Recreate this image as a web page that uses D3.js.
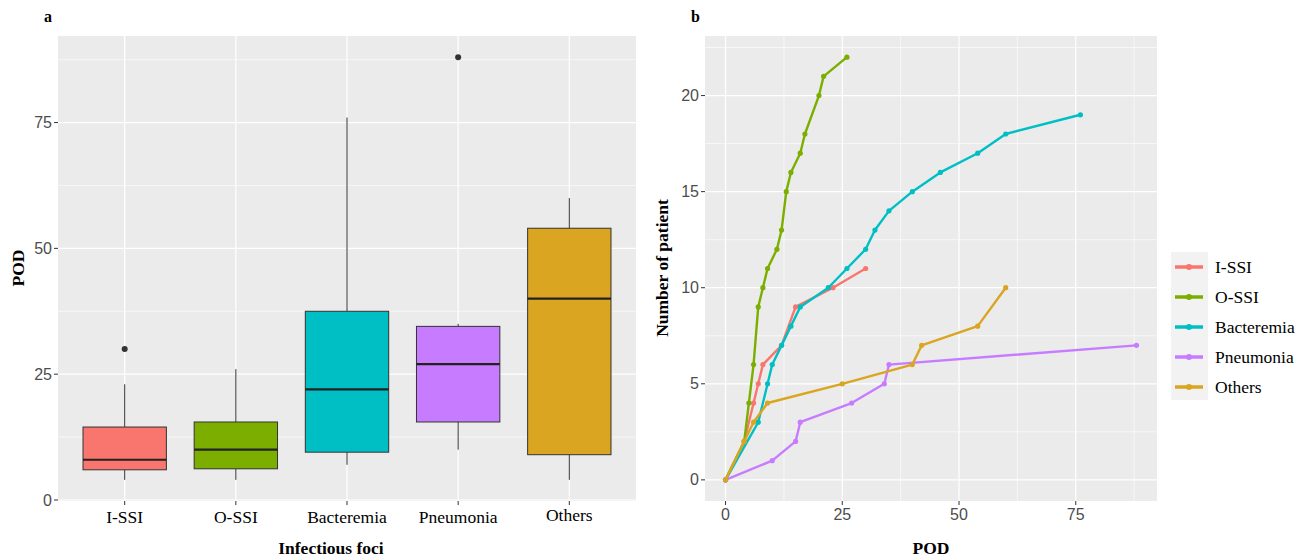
<!DOCTYPE html>
<html>
<head>
<meta charset="utf-8">
<script src="https://cdn.jsdelivr.net/npm/d3@7"></script>
<style>
  body { margin: 0; background: #fff; }
  svg { display: block; }
  .tick-sans { font-family: "Liberation Sans", Arial, sans-serif; font-size: 16px; fill: #4d4d4d; }
  .serif { font-family: "Liberation Serif", "Times New Roman", serif; fill: #000; }
</style>
</head>
<body>
<div id="chart"></div>
<script>
// panel a: box plot of POD per infectious focus
const categories = ["I-SSI", "O-SSI", "Bacteremia", "Pneumonia", "Others"];
const whiskerLow = [4, 4, 7, 10, 4];
const q1 = [6, 6.2, 9.5, 15.5, 9];
const medians = [8, 10, 22, 27, 40];
const q3 = [14.5, 15.5, 37.5, 34.5, 54];
const whiskerHigh = [23, 26, 76, 35, 60];
const outliers = [[30], [], [], [88], []];
const podTicks = [0, 25, 50, 75];

// panel b: cumulative number of patients by POD
const podISSI = [0, 4, 6, 7, 8, 12, 15, 23, 30];
const nISSI = [0, 2, 4, 5, 6, 7, 9, 10, 11];
const podOSSI = [0, 4, 5, 6, 7, 8, 9, 11, 12, 13, 14, 16, 17, 20, 21, 26];
const nOSSI = [0, 2, 4, 6, 9, 10, 11, 12, 13, 15, 16, 17, 18, 20, 21, 22];
const podBact = [0, 7, 9, 10, 12, 14, 16, 22, 26, 30, 32, 35, 40, 46, 54, 60, 76];
const nBact = [0, 3, 5, 6, 7, 8, 9, 10, 11, 12, 13, 14, 15, 16, 17, 18, 19];
const podPneu = [0, 10, 15, 16, 27, 34, 35, 88];
const nPneu = [0, 1, 2, 3, 4, 5, 6, 7];
const podOther = [0, 4, 6, 9, 25, 40, 42, 54, 60];
const nOther = [0, 2, 3, 4, 5, 6, 7, 8, 10];
const countTicks = [0, 5, 10, 15, 20];
const podTicksB = [0, 25, 50, 75];

const colors = ["#F8766D", "#7CAE00", "#00BFC4", "#C77CFF", "#DAA520"];

const series = [
  { name: categories[0], x: podISSI, y: nISSI },
  { name: categories[1], x: podOSSI, y: nOSSI },
  { name: categories[2], x: podBact, y: nBact },
  { name: categories[3], x: podPneu, y: nPneu },
  { name: categories[4], x: podOther, y: nOther }
];

const width = 1305, height = 558;
const svg = d3.select("#chart").append("svg")
  .attr("width", width)
  .attr("height", height);

const panelBg = "#EBEBEB";

// ---------- panel a ----------
const ax = d3.scalePoint().domain(categories).range([58, 636]).padding(0.6);
const ay = d3.scaleLinear().domain([-0.2, 92.2]).range([501, 36]);

const ga = svg.append("g");
ga.append("rect")
  .attr("x", 58).attr("y", 36)
  .attr("width", 636 - 58).attr("height", 501 - 36)
  .attr("fill", panelBg);

const minorA = d3.range(12.5, 92.2, 25);
ga.selectAll("line.minor").data(minorA).join("line")
  .attr("x1", 58).attr("x2", 636)
  .attr("y1", d => ay(d)).attr("y2", d => ay(d))
  .attr("stroke", "#fff").attr("stroke-width", 0.6);
ga.selectAll("line.major").data(podTicks).join("line")
  .attr("x1", 58).attr("x2", 636)
  .attr("y1", d => ay(d)).attr("y2", d => ay(d))
  .attr("stroke", "#fff").attr("stroke-width", 1.2);
ga.selectAll("line.vmajor").data(categories).join("line")
  .attr("x1", d => ax(d)).attr("x2", d => ax(d))
  .attr("y1", 36).attr("y2", 501)
  .attr("stroke", "#fff").attr("stroke-width", 1.2);

const boxW = ax.step() * 0.75;
const boxes = ga.selectAll("g.box").data(categories).join("g").attr("class", "box");

boxes.append("line")
  .attr("x1", d => ax(d)).attr("x2", d => ax(d))
  .attr("y1", (d, i) => ay(whiskerHigh[i])).attr("y2", (d, i) => ay(q3[i]))
  .attr("stroke", "#333").attr("stroke-width", 1);
boxes.append("line")
  .attr("x1", d => ax(d)).attr("x2", d => ax(d))
  .attr("y1", (d, i) => ay(q1[i])).attr("y2", (d, i) => ay(whiskerLow[i]))
  .attr("stroke", "#333").attr("stroke-width", 1);
boxes.append("rect")
  .attr("x", d => ax(d) - boxW / 2)
  .attr("width", boxW)
  .attr("y", (d, i) => ay(q3[i]))
  .attr("height", (d, i) => ay(q1[i]) - ay(q3[i]))
  .attr("fill", (d, i) => colors[i])
  .attr("stroke", "#333").attr("stroke-width", 1);
boxes.append("line")
  .attr("x1", d => ax(d) - boxW / 2).attr("x2", d => ax(d) + boxW / 2)
  .attr("y1", (d, i) => ay(medians[i])).attr("y2", (d, i) => ay(medians[i]))
  .attr("stroke", "#222").attr("stroke-width", 2.2);
boxes.each(function(d, i) {
  d3.select(this).selectAll("circle").data(outliers[i]).join("circle")
    .attr("cx", ax(d)).attr("cy", v => ay(v))
    .attr("r", 3).attr("fill", "#333");
});

// axes a
const aYAxis = ga.append("g");
aYAxis.selectAll("line").data(podTicks).join("line")
  .attr("x1", 54).attr("x2", 58)
  .attr("y1", d => ay(d)).attr("y2", d => ay(d))
  .attr("stroke", "#333");
aYAxis.selectAll("text").data(podTicks).join("text")
  .attr("class", "tick-sans")
  .attr("x", 52).attr("y", d => ay(d))
  .attr("dy", "0.35em")
  .attr("text-anchor", "end")
  .text(d => d);

const aXAxis = ga.append("g");
aXAxis.selectAll("line").data(categories).join("line")
  .attr("x1", d => ax(d)).attr("x2", d => ax(d))
  .attr("y1", 501).attr("y2", 505)
  .attr("stroke", "#333");
aXAxis.selectAll("text").data(categories).join("text")
  .attr("class", "serif")
  .attr("x", d => ax(d)).attr("y", (d, i) => i === 4 ? 521 : 523)
  .attr("text-anchor", "middle")
  .style("font-size", "17.5px")
  .text(d => d);

svg.append("text").attr("class", "serif")
  .attr("x", 331).attr("y", 554)
  .attr("text-anchor", "middle")
  .style("font-size", "17.5px").style("font-weight", "bold")
  .text("Infectious foci");
svg.append("text").attr("class", "serif")
  .attr("transform", "translate(24,268) rotate(-90)")
  .attr("text-anchor", "middle")
  .style("font-size", "17.5px").style("font-weight", "bold")
  .text("POD");
svg.append("text").attr("class", "serif")
  .attr("x", 44).attr("y", 22)
  .style("font-size", "16px").style("font-weight", "bold")
  .text("a");

// ---------- panel b ----------
const bx = d3.scaleLinear().domain([-4.4, 92.4]).range([705, 1157]);
const by = d3.scaleLinear().domain([-1.1, 23.1]).range([501, 36]);

const gb = svg.append("g");
gb.append("rect")
  .attr("x", 705).attr("y", 36)
  .attr("width", 1157 - 705).attr("height", 501 - 36)
  .attr("fill", panelBg);

const minorBy = d3.range(2.5, 23.1, 5);
const minorBx = d3.range(12.5, 92.4, 25);
gb.selectAll("line.mny").data(minorBy).join("line")
  .attr("x1", 705).attr("x2", 1157)
  .attr("y1", d => by(d)).attr("y2", d => by(d))
  .attr("stroke", "#fff").attr("stroke-width", 0.6);
gb.selectAll("line.mnx").data(minorBx).join("line")
  .attr("x1", d => bx(d)).attr("x2", d => bx(d))
  .attr("y1", 36).attr("y2", 501)
  .attr("stroke", "#fff").attr("stroke-width", 0.6);
gb.selectAll("line.mjy").data(countTicks).join("line")
  .attr("x1", 705).attr("x2", 1157)
  .attr("y1", d => by(d)).attr("y2", d => by(d))
  .attr("stroke", "#fff").attr("stroke-width", 1.2);
gb.selectAll("line.mjx").data(podTicksB).join("line")
  .attr("x1", d => bx(d)).attr("x2", d => bx(d))
  .attr("y1", 36).attr("y2", 501)
  .attr("stroke", "#fff").attr("stroke-width", 1.2);

const line = d3.line().x(d => bx(d[0])).y(d => by(d[1]));
series.forEach((s, k) => {
  const pts = s.x.map((v, i) => [v, s.y[i]]);
  gb.append("path")
    .datum(pts)
    .attr("d", line)
    .attr("fill", "none")
    .attr("stroke", colors[k])
    .attr("stroke-width", 2.4)
    .attr("stroke-linejoin", "round");
  gb.append("g").selectAll("circle").data(pts).join("circle")
    .attr("cx", d => bx(d[0])).attr("cy", d => by(d[1]))
    .attr("r", 2.6).attr("fill", colors[k]);
});

const bYAxis = gb.append("g");
bYAxis.selectAll("line").data(countTicks).join("line")
  .attr("x1", 701).attr("x2", 705)
  .attr("y1", d => by(d)).attr("y2", d => by(d))
  .attr("stroke", "#333");
bYAxis.selectAll("text").data(countTicks).join("text")
  .attr("class", "tick-sans")
  .attr("x", 699).attr("y", d => by(d))
  .attr("dy", "0.35em")
  .attr("text-anchor", "end")
  .text(d => d);

const bXAxis = gb.append("g");
bXAxis.selectAll("line").data(podTicksB).join("line")
  .attr("x1", d => bx(d)).attr("x2", d => bx(d))
  .attr("y1", 501).attr("y2", 505)
  .attr("stroke", "#333");
bXAxis.selectAll("text").data(podTicksB).join("text")
  .attr("class", "tick-sans")
  .attr("x", d => bx(d)).attr("y", 520)
  .attr("text-anchor", "middle")
  .text(d => d);

svg.append("text").attr("class", "serif")
  .attr("x", 931).attr("y", 554)
  .attr("text-anchor", "middle")
  .style("font-size", "17.5px").style("font-weight", "bold")
  .text("POD");
svg.append("text").attr("class", "serif")
  .attr("transform", "translate(668,268) rotate(-90)")
  .attr("text-anchor", "middle")
  .style("font-size", "17.5px").style("font-weight", "bold")
  .text("Number of patient");
svg.append("text").attr("class", "serif")
  .attr("x", 691).attr("y", 22)
  .style("font-size", "16px").style("font-weight", "bold")
  .text("b");

// legend
const legend = svg.append("g");
legend.append("rect")
  .attr("x", 1171).attr("y", 252)
  .attr("width", 37).attr("height", 148)
  .attr("fill", "#F2F2F2");
const lg = legend.selectAll("g.item").data(categories).join("g")
  .attr("class", "item")
  .attr("transform", (d, i) => `translate(0,${267 + i * 30})`);
lg.append("line")
  .attr("x1", 1175).attr("x2", 1203)
  .attr("stroke", (d, i) => colors[i])
  .attr("stroke-width", 3.5);
lg.append("circle")
  .attr("cx", 1189).attr("r", 3)
  .attr("fill", (d, i) => colors[i]);
lg.append("text").attr("class", "serif")
  .attr("x", 1215).attr("dy", "0.35em")
  .style("font-size", "17.5px")
  .text(d => d);
</script>
</body>
</html>
